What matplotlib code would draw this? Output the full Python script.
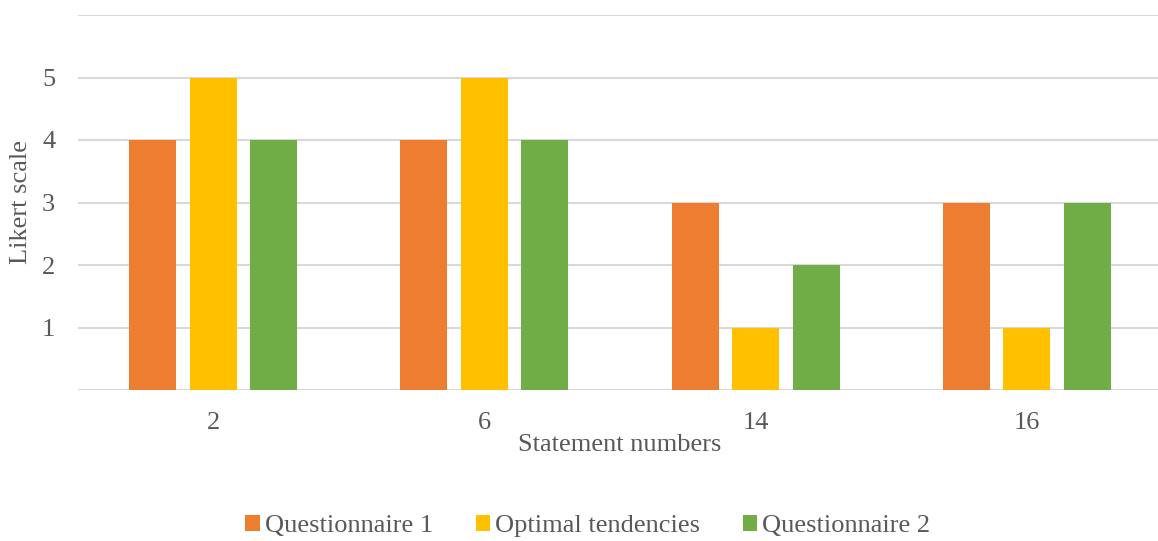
import numpy as np
import matplotlib.pyplot as plt

plt.rcParams['font.family'] = ['Liberation Serif', 'DejaVu Serif']

statements = ["2", "6", "14", "16"]
questionnaire_1 = [4, 4, 3, 3]
optimal = [5, 5, 1, 1]
questionnaire_2 = [4, 4, 2, 3]

series = [
    ("Questionnaire 1", questionnaire_1, "#ED7D31"),
    ("Optimal tendencies", optimal, "#FFC000"),
    ("Questionnaire 2", questionnaire_2, "#70AD47"),
]

TEXT = "#595959"
GRID = "#D9D9D9"
FS = 19

fig = plt.figure(figsize=(11.58, 5.41), dpi=100)
ax = fig.add_axes([77.5 / 1158, 151 / 541, 1085 / 1158, 375 / 541])

x = np.arange(len(statements))
width = 0.173
step = 0.223
for i, (name, vals, color) in enumerate(series):
    ax.bar(x + (i - 1) * step, vals, width, color=color, label=name, zorder=3)

ax.set_xlim(-0.5, len(statements) - 0.5)
ax.set_ylim(0, 6)
ax.set_yticks(range(0, 7))
ax.set_yticklabels(["", "1", "2", "3", "4", "5", ""])
ax.set_xticks(x)
ax.set_xticklabels(statements)
ax.tick_params(length=0, labelsize=FS, colors=TEXT)
ax.tick_params(axis="y", pad=16)
ax.tick_params(axis="x", pad=16)
ax.grid(axis="y", color=GRID, linewidth=1.5, zorder=0)
for s in ax.spines.values():
    s.set_visible(False)

ax.set_xlabel("Statement numbers", fontsize=FS, color=TEXT, labelpad=0)
ax.set_ylabel("Likert scale", fontsize=FS, color=TEXT)
ax.yaxis.set_label_coords(-(77.5 - 32) / 1085, 0.5)

fig.legend(loc="center", bbox_to_anchor=(588 / 1158, 1 - 526 / 541), ncol=3, frameon=False,
           fontsize=FS, labelcolor=TEXT, handlelength=0.55, handleheight=0.55,
           handletextpad=0.2, columnspacing=1.6, borderpad=0, borderaxespad=0)

fig.savefig("out.png", dpi=100)
